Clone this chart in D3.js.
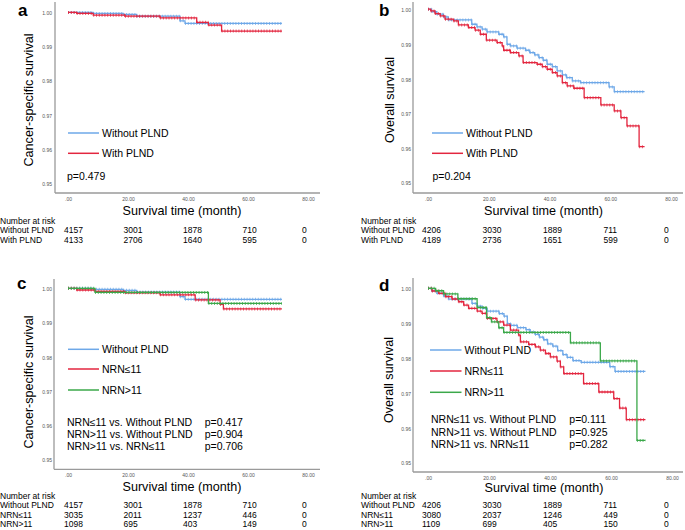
<!DOCTYPE html>
<html><head><meta charset="utf-8">
<script src="https://cdn.jsdelivr.net/npm/d3@7"></script>
<style>
body{margin:0;background:#fff}
svg{display:block}
text{font-family:"Liberation Sans",Arial,sans-serif}
</style>
</head><body>
<svg id="chart" width="685" height="530"></svg>
<script>
// ---------- DATA ----------
const xTicks = [0, 20, 40, 60, 80];
const xTickLabels = [".00", "20.00", "40.00", "60.00", "80.00"];
const yTicks = [0.95, 0.96, 0.97, 0.98, 0.99, 1.00];
const yTickLabels = ["0.95", "0.96", "0.97", "0.98", "0.99", "1.00"];
const riskTimes = [0, 20, 40, 60, 80];
const followUpEnd = 71.3;

// Cancer-specific survival, Without PLND (panels a, c)
const cssWithoutT = [0, 8.4, 18.4, 22.9, 37.3, 39.0];
const cssWithoutS = [1.0, 0.9997, 0.9994, 0.9989, 0.99755, 0.9968];
// Cancer-specific survival, With PLND (panel a)
const cssWithT = [0, 2.9, 8.4, 19.0, 30.7, 42.9, 46.8, 51.2];
const cssWithS = [1.0, 0.9997, 0.9992, 0.9989, 0.9984, 0.9971, 0.9963, 0.99455];
// CSS NRN<=11 (panel c)
const cssLe11T = [0, 2.9, 9.0, 19.0, 30.7, 42.4, 50.7, 51.8];
const cssLe11S = [1.0, 0.9995, 0.9991, 0.9987, 0.9981, 0.9966, 0.9953, 0.9940];
// CSS NRN>11 (panel c)
const cssGt11T = [0, 9.0, 46.8];
const cssGt11S = [1.0, 0.9988, 0.99558];

// Overall survival, Without PLND (panels b, d)
const osWithoutT = [0, 1.2, 2.9, 5.1, 6.7, 14.4, 16.1, 17.8, 19.4, 23.3, 24.9, 26.0, 27.1, 29.3, 32.1, 33.5, 35.1, 36.5, 37.9, 39.2, 40.9, 42.5, 44.2, 45.6, 47.5, 50.2, 59.6, 61.3];
const osWithoutS = [1.0, 0.9993, 0.99855, 0.99777, 0.9969, 0.99566, 0.99488, 0.99422, 0.99344, 0.99277, 0.992, 0.98988, 0.98939, 0.98873, 0.98815, 0.98746, 0.98679, 0.98601, 0.98526, 0.9841, 0.98341, 0.98217, 0.98101, 0.98023, 0.97928, 0.97879, 0.97754, 0.97619];
// OS With PLND (panel b)
const osWithT = [0, 0.9, 2.3, 4.0, 5.6, 8.4, 10.0, 13.3, 15.5, 17.2, 19.2, 22.7, 24.4, 24.9, 27.1, 29.9, 31.3, 35.9, 37.6, 39.2, 40.9, 42.5, 44.2, 45.8, 48.0, 51.4, 56.9, 61.3, 63.5, 65.5, 69.5];
const osWithS = [1.0, 0.9995, 0.99873, 0.99806, 0.99711, 0.99662, 0.99546, 0.99468, 0.99393, 0.99277, 0.99104, 0.99035, 0.98939, 0.98815, 0.98746, 0.9865, 0.98457, 0.9841, 0.98341, 0.98266, 0.98168, 0.98072, 0.97879, 0.97783, 0.97717, 0.97445, 0.97234, 0.97061, 0.96867, 0.96627, 0.96029];
// OS NRN<=11 (panel d)
const osLe11T = [0, 1.3, 3.5, 5.7, 7.9, 10.0, 11.7, 13.3, 16.1, 17.7, 19.3, 22.6, 24.8, 27.0, 29.7, 30.3, 33.0, 35.2, 36.8, 38.5, 40.1, 42.3, 43.4, 44.5, 51.0, 56.0, 60.9, 62.8, 65.0];
const osLe11S = [1.0, 0.99922, 0.99856, 0.99759, 0.99693, 0.99615, 0.9952, 0.99425, 0.99348, 0.99282, 0.99138, 0.9904, 0.98945, 0.98802, 0.98658, 0.98466, 0.98391, 0.98322, 0.98227, 0.98132, 0.98034, 0.97911, 0.97747, 0.97557, 0.9727, 0.97029, 0.96839, 0.96569, 0.96236];
// OS NRN>11 (panel d)
const osGt11T = [0, 2.5, 5.1, 9.8, 16.1, 19.2, 20.8, 23.2, 24.8, 46.7, 56.5, 68.5];
const osGt11S = [1.0, 0.9993, 0.9984, 0.9970, 0.9945, 0.9916, 0.9904, 0.9887, 0.98736, 0.98437, 0.9792, 0.9564];

// Numbers at risk
const aRiskWithout = [4157, 3001, 1878, 710, 0];
const aRiskWith = [4133, 2706, 1640, 595, 0];
const bRiskWithout = [4206, 3030, 1889, 711, 0];
const bRiskWith = [4189, 2736, 1651, 599, 0];
const cRiskWithout = [4157, 3001, 1878, 710, 0];
const cRiskLe11 = [3035, 2011, 1237, 446, 0];
const cRiskGt11 = [1098, 695, 403, 149, 0];
const dRiskWithout = [4206, 3030, 1889, 711, 0];
const dRiskLe11 = [3080, 2037, 1246, 449, 0];
const dRiskGt11 = [1109, 699, 405, 150, 0];

// Labels / statistics
const groupNames2 = ["Without PLND", "With PLND"];
const groupNames3 = ["Without PLND", "NRN≤11", "NRN>11"];
const cStatsLabels = ["NRN≤11 vs. Without PLND", "NRN>11 vs. Without PLND", "NRN>11 vs. NRN≤11"];
const cStatsP = ["p=0.417", "p=0.904", "p=0.706"];
const dStatsLabels = ["NRN≤11 vs. Without PLND", "NRN>11 vs. Without PLND", "NRN>11 vs. NRN≤11"];
const dStatsP = ["p=0.111", "p=0.925", "p=0.282"];

// ---------- STYLE ----------
const BLUE = "#6ea8e8", RED = "#e3263f", GREEN = "#3ba84a";
const AXIS = "#9a9a9a";

const svg = d3.select("#chart");

function drawPanel(c) {
  const g = svg.append("g");
  const x = d3.scaleLinear().domain([0, 80]).range(c.xRange);
  const y = d3.scaleLinear().domain([0.95, 1.0]).range(c.yRange);

  // axis lines
  g.append("line").attr("x1", c.axisX).attr("x2", c.axisX).attr("y1", c.axisTop).attr("y2", c.axisY)
    .attr("stroke", AXIS).attr("stroke-width", 1.3);
  g.append("line").attr("x1", c.axisX).attr("x2", c.axisRight).attr("y1", c.axisY).attr("y2", c.axisY)
    .attr("stroke", AXIS).attr("stroke-width", 1.3);

  // y tick labels
  const ya = g.append("g").attr("transform", `translate(${c.yLabelRight},${c.yLabelShift})`)
    .call(d3.axisLeft(y).tickValues(yTicks).tickFormat((d, i) => yTickLabels[i]).tickSize(0).tickPadding(0));
  ya.select(".domain").remove();
  ya.attr("font-size", 5).attr("font-family", null).attr("color", "#555");

  // x tick labels
  const xa = g.append("g").attr("transform", `translate(0,${c.xTickY})`)
    .call(d3.axisBottom(x).tickValues(xTicks).tickFormat((d, i) => xTickLabels[i]).tickSize(0).tickPadding(0));
  xa.select(".domain").remove();
  xa.attr("font-size", 5).attr("font-family", null).attr("color", "#555");
  xa.selectAll("text").attr("y", 0).attr("dy", "0.35em");

  // titles
  g.append("text").attr("transform", `translate(${c.yTitleX},${c.yTitleY}) rotate(-90)`)
    .attr("text-anchor", "middle").attr("dy", "0.35em").attr("font-size", 12.6).text(c.yTitle);
  g.append("text").attr("x", (x(0) + x(80)) / 2 - 6).attr("y", c.xTitleY).attr("dy", "0.35em")
    .attr("text-anchor", "middle").attr("font-size", 12.6).text("Survival time (month)");

  // panel letter
  g.append("text").attr("x", c.letterX).attr("y", c.letterY).attr("font-size", 17)
    .attr("font-weight", "bold").text(c.letter);

  // curves
  const line = d3.line().x(d => x(d[0])).y(d => y(d[1])).curve(d3.curveStepAfter);
  c.series.forEach(s => {
    const pts = s.t.map((t, i) => [t, s.s[i]]);
    pts.push([followUpEnd, s.s[s.s.length - 1]]);
    g.append("path").attr("d", line(pts)).attr("fill", "none")
      .attr("stroke", s.color).attr("stroke-width", 1.3);
    // censoring ticks along the horizontal parts
    s.t.forEach((t, i) => {
      const t2 = i < s.t.length - 1 ? s.t[i + 1] : followUpEnd;
      g.append("line").attr("x1", x(t)).attr("x2", x(t2)).attr("y1", y(s.s[i])).attr("y2", y(s.s[i]))
        .attr("stroke", s.color).attr("stroke-width", 3).attr("stroke-dasharray", "1 1.8")
        .attr("opacity", 0.75);
    });
  });

  // legend
  c.series.forEach((s, i) => {
    const ly = c.legendY[i];
    g.append("line").attr("x1", c.legendX[0]).attr("x2", c.legendX[1]).attr("y1", ly).attr("y2", ly)
      .attr("stroke", s.color).attr("stroke-width", 1.5);
    g.append("text").attr("x", c.legendX[1] + 3).attr("y", ly).attr("dy", "0.35em")
      .attr("font-size", 10.5).text(s.name);
  });

  // statistics
  c.stats.forEach((st, i) => {
    g.append("text").attr("x", c.statX).attr("y", c.statY[i]).attr("dy", "0.35em")
      .attr("font-size", 10.5).text(st[0]);
    if (st[1]) g.append("text").attr("x", c.statPX).attr("y", c.statY[i]).attr("dy", "0.35em")
      .attr("font-size", 10.5).text(st[1]);
  });

  // number at risk
  const rx = d3.scaleLinear().domain([0, 80]).range(c.riskRange);
  g.append("text").attr("x", c.riskLabelX).attr("y", c.riskHeadY).attr("dy", "0.35em")
    .attr("font-size", 8.5).text("Number at risk");
  c.series.forEach((s, i) => {
    const ry = c.riskRowY[i];
    g.append("text").attr("x", c.riskLabelX).attr("y", ry).attr("dy", "0.35em")
      .attr("font-size", 8.5).text(s.name);
    g.selectAll(null).data(s.risk).enter().append("text")
      .attr("x", (d, j) => rx(riskTimes[j])).attr("y", ry).attr("dy", "0.35em")
      .attr("font-size", 8.5).text(d => d);
  });
}

// ---------- PANELS ----------
drawPanel({
  letter: "a", letterX: 18, letterY: 16,
  xRange: [68, 308], yRange: [184, 12.4], yLabelShift: 0.3,
  axisX: 55, axisTop: 2, axisY: 193, axisRight: 320,
  yLabelRight: 52, xTickY: 199,
  yTitle: "Cancer-specific survival", yTitleX: 29, yTitleY: 100, xTitleY: 211,
  series: [
    { name: groupNames2[0], t: cssWithoutT, s: cssWithoutS, color: BLUE, risk: aRiskWithout },
    { name: groupNames2[1], t: cssWithT, s: cssWithS, color: RED, risk: aRiskWith }
  ],
  legendX: [68, 99], legendY: [133, 153.3],
  stats: [["p=0.479", null]], statX: 67, statY: [176], statPX: 0,
  riskRange: [64, 302], riskLabelX: 0, riskHeadY: 221, riskRowY: [230.5, 240.5]
});

drawPanel({
  letter: "b", letterX: 379, letterY: 16,
  xRange: [428, 671], yRange: [182.3, 9.2], yLabelShift: 1,
  axisX: 413, axisTop: 2, axisY: 193, axisRight: 683,
  yLabelRight: 411, xTickY: 199,
  yTitle: "Overall survival", yTitleX: 390, yTitleY: 100, xTitleY: 211,
  series: [
    { name: groupNames2[0], t: osWithoutT, s: osWithoutS, color: BLUE, risk: bRiskWithout },
    { name: groupNames2[1], t: osWithT, s: osWithS, color: RED, risk: bRiskWith }
  ],
  legendX: [432, 463], legendY: [133, 153.3],
  stats: [["p=0.204", null]], statX: 432.5, statY: [176], statPX: 0,
  riskRange: [422, 664], riskLabelX: 361, riskHeadY: 221, riskRowY: [230.5, 240.5]
});

drawPanel({
  letter: "c", letterX: 17, letterY: 289,
  xRange: [68, 308], yRange: [459.8, 288.3], yLabelShift: 0.5,
  axisX: 54, axisTop: 279, axisY: 469.3, axisRight: 320,
  yLabelRight: 52, xTickY: 475,
  yTitle: "Cancer-specific survival", yTitleX: 29, yTitleY: 382, xTitleY: 487,
  series: [
    { name: groupNames3[0], t: cssWithoutT, s: cssWithoutS, color: BLUE, risk: cRiskWithout },
    { name: groupNames3[1], t: cssLe11T, s: cssLe11S, color: RED, risk: cRiskLe11 },
    { name: groupNames3[2], t: cssGt11T, s: cssGt11S, color: GREEN, risk: cRiskGt11 }
  ],
  legendX: [68, 99], legendY: [349.3, 369, 390],
  stats: cStatsLabels.map((l, i) => [l, cStatsP[i]]), statX: 67, statY: [422.3, 434, 446], statPX: 204.7,
  riskRange: [64, 302], riskLabelX: 0, riskHeadY: 496, riskRowY: [505.5, 515, 524.5]
});

drawPanel({
  letter: "d", letterX: 379, letterY: 291,
  xRange: [428, 672], yRange: [462.8, 288.3], yLabelShift: 0.5,
  axisX: 413, axisTop: 278, axisY: 472, axisRight: 683,
  yLabelRight: 411, xTickY: 478,
  yTitle: "Overall survival", yTitleX: 389, yTitleY: 380, xTitleY: 487.5,
  series: [
    { name: groupNames3[0], t: osWithoutT, s: osWithoutS, color: BLUE, risk: dRiskWithout },
    { name: groupNames3[1], t: osLe11T, s: osLe11S, color: RED, risk: dRiskLe11 },
    { name: groupNames3[2], t: osGt11T, s: osGt11S, color: GREEN, risk: dRiskGt11 }
  ],
  legendX: [430, 461.5], legendY: [350, 371, 392.3],
  stats: dStatsLabels.map((l, i) => [l, dStatsP[i]]), statX: 431, statY: [419.3, 432.7, 444.7], statPX: 569.3,
  riskRange: [422, 664], riskLabelX: 361, riskHeadY: 496, riskRowY: [505.5, 515, 524.5]
});
</script>
</body></html>
